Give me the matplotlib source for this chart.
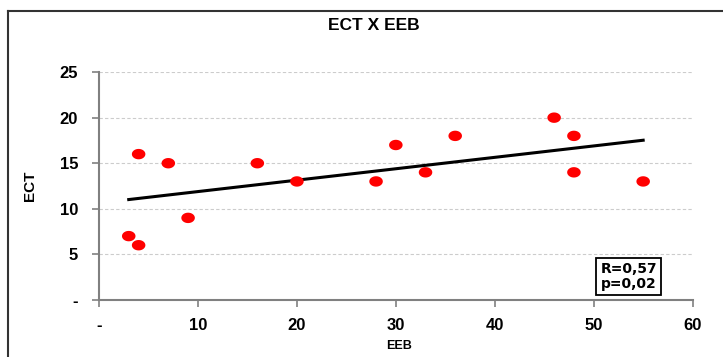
import numpy as np
import matplotlib.pyplot as plt
from matplotlib.lines import Line2D
from matplotlib.path import Path

# data
eeb = [3, 4, 4, 7, 9, 16, 20, 28, 30, 33, 36, 46, 48, 48, 55]
ect = [7, 6, 16, 15, 9, 15, 13, 13, 17, 14, 18, 20, 18, 14, 13]
xticks = [0, 10, 20, 30, 40, 50, 60]
xlabels = ['-', '10', '20', '30', '40', '50', '60']
yticks = [0, 5, 10, 15, 20, 25]
ylabels = ['-', '5', '10', '15', '20', '25']

plt.rcParams['font.family'] = ['Liberation Sans', 'DejaVu Sans']

fig = plt.figure(figsize=(7.23, 3.57), dpi=100)
ax = fig.add_axes([0.137, 0.160, 0.821, 0.638])

# slightly wide ellipse marker, like the original
t = np.linspace(0, 2 * np.pi, 40)
ell = Path(np.column_stack([1.3 * np.cos(t), np.sin(t)]), closed=True)
ax.scatter(eeb, ect, s=95, marker=ell, color='#ff0000', zorder=3, edgecolors='none')

# linear trend line
b, a = np.polyfit(eeb, ect, 1)
xs = np.array([min(eeb), max(eeb)])
ax.plot(xs, a + b * xs, color='black', lw=2.2, zorder=2)

ax.set_xlim(0, 60)
ax.set_ylim(0, 25)
ax.set_xticks(xticks)
ax.set_xticklabels(xlabels, fontsize=12, fontweight='bold')
ax.set_yticks(yticks)
ax.set_yticklabels(ylabels, fontsize=12, fontweight='bold')
ax.tick_params(axis='both', colors='#808080', length=5, width=1.2, labelcolor='black')
ax.tick_params(axis='x', pad=8)
ax.tick_params(axis='y', pad=10)

for s in ['top', 'right']:
    ax.spines[s].set_visible(False)
for s in ['left', 'bottom']:
    ax.spines[s].set_color('#808080')
    ax.spines[s].set_linewidth(1.5)

ax.yaxis.grid(True, linestyle=(0, (3, 2)), color='#cccccc', lw=0.8)
ax.set_axisbelow(True)

fig.text(374 / 723, 1 - 25 / 357, 'ECT X EEB', fontsize=12.5, fontweight='bold',
         ha='center', va='center')
ax.set_ylabel('ECT', fontsize=11, fontweight='bold')
ax.yaxis.set_label_coords(-0.105, 0.5)
ax.set_xlabel('EEB', fontsize=9, fontweight='bold')
ax.xaxis.set_label_coords(0.505, -0.175)

ax.text(0.845, 0.04, 'R=0,57\np=0,02', transform=ax.transAxes, fontsize=10,
        fontweight='bold', family='DejaVu Sans', va='bottom', ha='left', linespacing=1.05,
        bbox=dict(boxstyle='square,pad=0.3', facecolor='white', edgecolor='black', lw=1.3))

# outer chart frame
fig.add_artist(Line2D([8 / 723, 8 / 723], [0, 1 - 11 / 357], color='#333333', lw=1.5, transform=fig.transFigure))
fig.add_artist(Line2D([8 / 723, 1], [1 - 11 / 357, 1 - 11 / 357], color='#333333', lw=1.5, transform=fig.transFigure))

fig.savefig('out.png', dpi=100)
